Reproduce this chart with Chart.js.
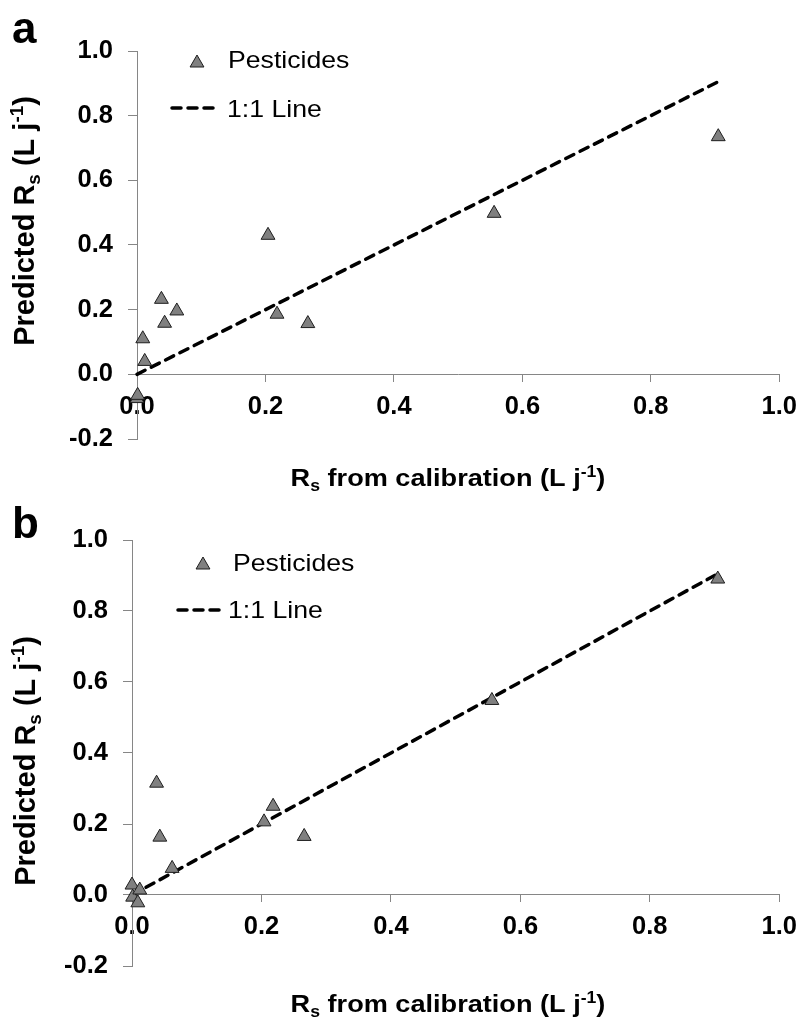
<!DOCTYPE html>
<html>
<head>
<meta charset="utf-8">
<script src="https://cdn.jsdelivr.net/npm/chart.js@4.4.1/dist/chart.umd.min.js"></script>
<style>
  html, body { margin: 0; padding: 0; background: #fff; }
  #wrap { position: relative; width: 807px; height: 1018px; }
  canvas { position: absolute; left: 0; }
</style>
</head>
<body>
<div id="wrap">
  <canvas id="chartA" width="807" height="500" style="top:0"></canvas>
  <canvas id="chartB" width="807" height="518" style="top:500px"></canvas>
</div>
<script>
// calibration Rs (x) shared by both panels
const rsCalibration = [0.000, 0.001, 0.009, 0.012, 0.038, 0.043, 0.062, 0.204, 0.218, 0.266, 0.556, 0.905];
// predicted Rs, panel a and panel b
const predictedA = [-0.075, -0.065, 0.110, 0.040, 0.232, 0.158, 0.196, 0.430, 0.186, 0.157, 0.498, 0.735];
const predictedB = [0.028, -0.006, -0.022, 0.014, 0.315, 0.163, 0.075, 0.206, 0.250, 0.165, 0.548, 0.890];
// 1:1 line end points
const oneToOne = [0, 0.905];
const xTicks = [0, 0.2, 0.4, 0.6, 0.8, 1.0];
const yTicks = [-0.2, 0, 0.2, 0.4, 0.6, 0.8, 1.0];

const FONT = '"Liberation Sans", Arial, Helvetica, sans-serif';
const AXIS_GREY = '#868686';
const MARKER_FILL = '#808080';
const MARKER_EDGE = '#1e1e1e';
const MARKER_R = 8;

const xTitle = [{t: 'R'}, {t: 's', sub: true}, {t: ' from calibration (L j'}, {t: '-1', sup: true}, {t: ')'}];
const yTitle = [{t: 'Predicted R'}, {t: 's', sub: true}, {t: ' (L j'}, {t: '-1', sup: true}, {t: ')'}];

Chart.defaults.font.family = FONT;

// draws a title with sub/superscripts, centred on x, baseline y
function drawRich(ctx, parts, x, y, size, stretch) {
  const fontFor = p => 'bold ' + ((p.sub || p.sup) ? size * 0.65 : size) + 'px ' + FONT;
  let w = 0;
  parts.forEach(p => { ctx.font = fontFor(p); w += ctx.measureText(p.t).width; });
  ctx.save();
  ctx.translate(x, y);
  ctx.scale(stretch, 1);
  ctx.textAlign = 'left';
  ctx.textBaseline = 'alphabetic';
  let cx = -w / 2;
  parts.forEach(p => {
    ctx.font = fontFor(p);
    let dy = 0;
    if (p.sub) dy = size * 0.22;
    if (p.sup) dy = -size * 0.38;
    ctx.fillText(p.t, cx, dy);
    cx += ctx.measureText(p.t).width;
  });
  ctx.restore();
}

function drawLabel(ctx, text, x, y, size, stretch) {
  ctx.save();
  ctx.translate(x, y);
  ctx.scale(stretch, 1);
  ctx.font = size + 'px ' + FONT;
  ctx.textAlign = 'left';
  ctx.textBaseline = 'alphabetic';
  ctx.fillText(text, 0, 0);
  ctx.restore();
}

const decor = {
  id: 'decor',
  afterDraw(chart, args, o) {
    const ctx = chart.ctx;
    ctx.save();
    ctx.fillStyle = '#000';

    // panel letter
    ctx.font = 'bold 44px ' + FONT;
    ctx.textAlign = 'left';
    ctx.textBaseline = 'alphabetic';
    ctx.fillText(o.letter, o.letterX, o.letterY);

    // axis titles
    drawRich(ctx, xTitle, o.xTitleX, o.xTitleY, 24, 1.13);
    ctx.save();
    ctx.translate(o.yTitleX, o.yTitleY);
    ctx.rotate(-Math.PI / 2);
    drawRich(ctx, yTitle, 0, 0, 29, 1);
    ctx.restore();

    // legend
    const lg = o.legend;
    ctx.fillStyle = MARKER_FILL;
    ctx.strokeStyle = MARKER_EDGE;
    ctx.lineWidth = 1;
    Chart.helpers.drawPoint(ctx, {pointStyle: 'triangle', radius: MARKER_R, rotation: 0, borderWidth: 1}, lg.markX, lg.markY);
    ctx.fillStyle = '#000';
    drawLabel(ctx, 'Pesticides', lg.text1X, lg.text1Y, 24, 1.11);

    ctx.strokeStyle = '#000';
    ctx.lineWidth = 3.5;
    ctx.lineCap = 'round';
    ctx.setLineDash([9, 7]);
    ctx.beginPath();
    ctx.moveTo(lg.dashX0, lg.dashY);
    ctx.lineTo(lg.dashX1, lg.dashY);
    ctx.stroke();
    ctx.setLineDash([]);
    drawLabel(ctx, '1:1 Line', lg.text2X, lg.text2Y, 24, 1.11);
    ctx.restore();
  }
};

function makePanel(canvasId, predicted, layout, decorOpts) {
  const ctx = document.getElementById(canvasId).getContext('2d');
  return new Chart(ctx, {
    type: 'scatter',
    data: {
      datasets: [
        {
          label: 'Pesticides',
          data: rsCalibration.map((x, i) => ({x: x, y: predicted[i]})),
          pointStyle: 'triangle',
          pointRadius: MARKER_R,
          pointBackgroundColor: MARKER_FILL,
          pointBorderColor: MARKER_EDGE,
          pointBorderWidth: 1,
          showLine: false,
          clip: false
        },
        {
          label: '1:1 Line',
          data: oneToOne.map(v => ({x: v, y: v})),
          showLine: true,
          borderColor: '#000',
          borderWidth: 3.5,
          borderDash: [9, 7],
          borderCapStyle: 'round',
          pointRadius: 0,
          clip: false
        }
      ]
    },
    options: {
      responsive: false,
      animation: false,
      devicePixelRatio: 1,
      events: [],
      layout: { padding: { left: 0, top: layout.top, right: layout.right, bottom: layout.bottom } },
      plugins: {
        legend: { display: false },
        tooltip: { enabled: false },
        decor: decorOpts
      },
      scales: {
        x: {
          type: 'linear',
          position: { y: 0 },
          min: 0,
          max: 1,
          afterBuildTicks: s => { s.ticks = xTicks.map(v => ({value: v})); },
          ticks: {
            color: '#000',
            font: { size: 25.5, weight: 'bold' },
            padding: 10,
            maxRotation: 0,
            callback: v => Number(v).toFixed(1)
          },
          grid: { display: true, drawOnChartArea: false, drawTicks: true, tickLength: 7, color: AXIS_GREY },
          border: { display: true, color: AXIS_GREY, width: 1 }
        },
        y: {
          type: 'linear',
          min: -0.2,
          max: 1,
          afterBuildTicks: s => { s.ticks = yTicks.map(v => ({value: v})); },
          afterFit: s => { s.width = layout.left; },
          ticks: {
            color: '#000',
            font: { size: 25.5, weight: 'bold' },
            padding: 15,
            callback: v => Number(v).toFixed(1)
          },
          grid: { display: true, drawOnChartArea: false, drawTicks: true, tickLength: 9, color: AXIS_GREY },
          border: { display: true, color: AXIS_GREY, width: 1 }
        }
      }
    },
    plugins: [decor]
  });
}

makePanel('chartA', predictedA,
  { left: 137, top: 51, right: 25, bottom: 61 },
  {
    letter: 'a', letterX: 12, letterY: 43,
    xTitleX: 448, xTitleY: 486,
    yTitleX: 34, yTitleY: 221,
    legend: { markX: 197, markY: 63, text1X: 228, text1Y: 68,
              dashX0: 172, dashX1: 215, dashY: 108, text2X: 227, text2Y: 117 }
  });

makePanel('chartB', predictedB,
  { left: 132, top: 40, right: 25, bottom: 52 },
  {
    letter: 'b', letterX: 12, letterY: 38,
    xTitleX: 448, xTitleY: 512,
    yTitleX: 35, yTitleY: 261,
    legend: { markX: 203, markY: 65, text1X: 233, text1Y: 71,
              dashX0: 178, dashX1: 221, dashY: 110, text2X: 228, text2Y: 118 }
  });
</script>
</body>
</html>
